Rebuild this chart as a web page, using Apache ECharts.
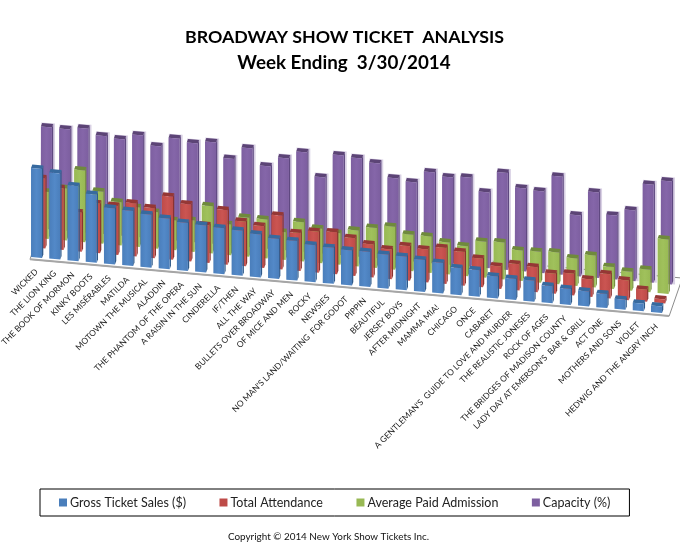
<!DOCTYPE html>
<html><head><meta charset="utf-8">
<style>html,body{margin:0;padding:0;background:#fff}#c{width:680px;height:553px}</style>
<script src="https://cdn.jsdelivr.net/npm/echarts@6/dist/echarts.min.js"></script>
</head><body><div id="c"></div>
<script>
const categories = ["WICKED","THE LION KING","THE BOOK OF MORMON","KINKY BOOTS","LES MISÉRABLES","MATILDA","MOTOWN THE MUSICAL","ALADDIN","THE PHANTOM OF THE OPERA","A RAISIN IN THE SUN","CINDERELLA","IF/THEN","ALL THE WAY","BULLETS OVER BROADWAY","OF MICE AND MEN","ROCKY","NEWSIES","NO MAN'S LAND/WAITING  FOR GODOT","PIPPIN","BEAUTIFUL","JERSEY BOYS","AFTER MIDNIGHT","MAMMA MIA!","CHICAGO","ONCE","CABARET","A GENTLEMAN'S  GUIDE TO LOVE AND MURDER","THE REALISTIC JONESES","ROCK OF AGES","THE BRIDGES OF MADISON COUNTY","LADY DAY AT EMERSON'S  BAR & GRILL","ACT ONE","MOTHERS AND SONS","VIOLET","HEDWIG AND THE ANGRY INCH"];
const gross = [89,86,75,68,56,55,53,50.5,48,47,46,45,43,40,39.5,37,36,35,35,34,33.5,32,30.5,27,26.5,22,21,21,17,16,15,14,10,7.5,6.5];
const attendance = [70,61.6,39,49.6,49,53,50,63,57,37.5,54.5,44.5,41.7,53.7,38,41,42,37.8,33,29.7,34.6,33,36,33.7,28.5,22.4,26.3,25,20,21.6,17.5,24.4,19.7,12,4];
const avgPaid = [47,52,71.7,52,43.3,39.6,36.5,29.8,31.4,47.3,30.7,39,39,27.8,39.4,34.5,31.7,36,40,43,36.5,36.5,32,30,36,37,30.5,31,31.8,27.4,32,22,19,22.6,54.5];
const capacity = [102,101.6,104,98,96.5,102,92.7,102,99,101.5,86.7,98.8,82.4,92,99.6,76.3,99.9,98.5,95,81.7,79.3,91,87.6,89,75.8,97,83,81.7,98,61,85.5,64,70.7,98,103];

const FONT = 'Lato, Carlito, sans-serif';
const SKEW = 0.0887, ROW_X = 3.3, ROW_Y = -9.5, HALF = 5.5, CAP_X = 1.3, CAP_Y = -3.5;

function project(api, i, v, row, du) {
  const p = api.coord([i, v]);
  const p0 = api.coord([0, 0]);
  const x = p[0] + (du || 0);
  return [x + ROW_X * row, p[1] + SKEW * (x - p0[0] + HALF) + ROW_Y * row];
}

function barSeries(name, values, row, front, light, top, side, halo) {
  return {
    name, type: 'custom', z: 10 - row, silent: true, clip: false,
    itemStyle: { color: front },
    encode: { x: 0, y: 1 },
    data: values.map((v, i) => [i, v]),
    renderItem(params, api) {
      const i = api.value(0), v = api.value(1);
      const bl = project(api, i, 0, row, -HALF), br = project(api, i, 0, row, HALF);
      const tl = project(api, i, v, row, -HALF), tr = project(api, i, v, row, HALF);
      const up = (p) => [p[0] + CAP_X, p[1] + CAP_Y];
      const children = [];
      if (halo) {
        const shift = (p, dx, dy) => [p[0] + dx, p[1] + dy];
        children.push({ type: 'polygon', shape: { points: [shift(bl, -1, 0), shift(br, 3.2, 0), shift(up(tr), 1.8, -0.5), shift(up(tl), -1, -0.5)] }, style: { fill: halo } });
      }
      children.push(
        { type: 'polygon', shape: { points: [br, up(br), up(tr), tr] }, style: { fill: side } },
        { type: 'polygon', shape: { points: [tl, tr, up(tr), up(tl)] }, style: { fill: top } },
        { type: 'polygon', shape: { points: [bl, br, tr, tl] }, style: {
          fill: { type: 'linear', x: 0, y: 0, x2: 1, y2: 0, colorStops: [
            { offset: 0, color: front }, { offset: 0.5, color: light }, { offset: 1, color: front } ] } } }
      );
      return { type: 'group', children };
    }
  };
}

const floorSeries = {
  type: 'custom', z: 1, silent: true, clip: false, legendHoverLink: false,
  encode: { x: 0, y: 1 }, data: [[0, 0]],
  renderItem(params, api) {
    const last = categories.length - 1, pad = 0.23 * 18.235;
    const a = project(api, 0, 0, -0.25, -HALF - pad + 4);
    const b = project(api, last, 0, -0.25, HALF + 8);
    const c = project(api, last, 0, 3.75, HALF + 8);
    const d = project(api, 0, 0, 3.75, -HALF - pad + 4);
    return { type: 'group', children: [
      { type: 'polygon', shape: { points: [a, b, c, d] }, style: { fill: '#fff', stroke: '#8c8c8c', lineWidth: 1 } },
      { type: 'line', shape: { x1: a[0], y1: a[1], x2: b[0], y2: b[1] }, style: { stroke: '#a6a6a6', lineWidth: 2 } }
    ] };
  }
};

const labelSeries = {
  type: 'custom', z: 20, silent: true, clip: false, legendHoverLink: false,
  encode: { x: 0, y: 1 }, data: categories.map((c, i) => [i, 0]),
  renderItem(params, api) {
    const i = api.value(0);
    const p = project(api, i, 0, -1.35, 0);
    return { type: 'text', x: p[0] + 4.5, y: p[1], rotation: Math.PI / 4,
      style: { text: categories[i], font: '8.4px ' + FONT, fill: '#222', align: 'right', verticalAlign: 'middle' } };
  }
};

const chart = echarts.init(document.getElementById('c'), null, { renderer: 'canvas' });
chart.setOption({
  animation: false,
  backgroundColor: '#fff',
  title: [
    { text: 'BROADWAY SHOW TICKET  ANALYSIS', left: 339.5, textAlign: 'center', top: 23, textStyle: { fontFamily: FONT, fontSize: 17.8, fontWeight: 'bold', color: '#000' } },
    { text: 'Week Ending  3/30/2014', left: 339, textAlign: 'center', top: 48, textStyle: { fontFamily: FONT, fontSize: 18.8, fontWeight: 'bold', color: '#000' } },
    { text: 'Copyright © 2014 New York Show Tickets Inc.', left: 323.5, textAlign: 'center', top: 527, textStyle: { fontFamily: FONT, fontSize: 9.9, fontWeight: 'normal', color: '#111' } }
  ],
  grid: { left: 27.4, width: 638.2, top: 137, height: 120, containLabel: false },
  xAxis: { type: 'category', data: categories, show: false },
  yAxis: { type: 'value', min: 0, max: 120, show: false },
  legend: {
    left: 40, top: 489, padding: [7, 19, 7, 19], itemGap: 33.5, itemWidth: 8, itemHeight: 8,
    icon: 'rect', borderColor: '#000', borderWidth: 1, selectedMode: false,
    textStyle: { fontFamily: FONT, fontSize: 12.5, color: '#222', padding: [0, 0, 0, -2] },
    data: ['Gross Ticket Sales ($)', 'Total Attendance', 'Average Paid Admission', 'Capacity (%)']
  },
  series: [
    floorSeries,
    barSeries('Gross Ticket Sales ($)', gross, 0, '#4a7ebb', '#5389c8', '#376a9f', '#2f5a8a'),
    barSeries('Total Attendance', attendance, 1, '#be4b48', '#cb5552', '#953735', '#8a3230'),
    barSeries('Average Paid Admission', avgPaid, 2, '#98b954', '#a0c15c', '#6f8a3c', '#76923c'),
    barSeries('Capacity (%)', capacity, 3, '#7d5fa0', '#8566a9', '#5c4476', '#5f4880', '#d9d1e4'),
    labelSeries
  ]
});
</script></body></html>
